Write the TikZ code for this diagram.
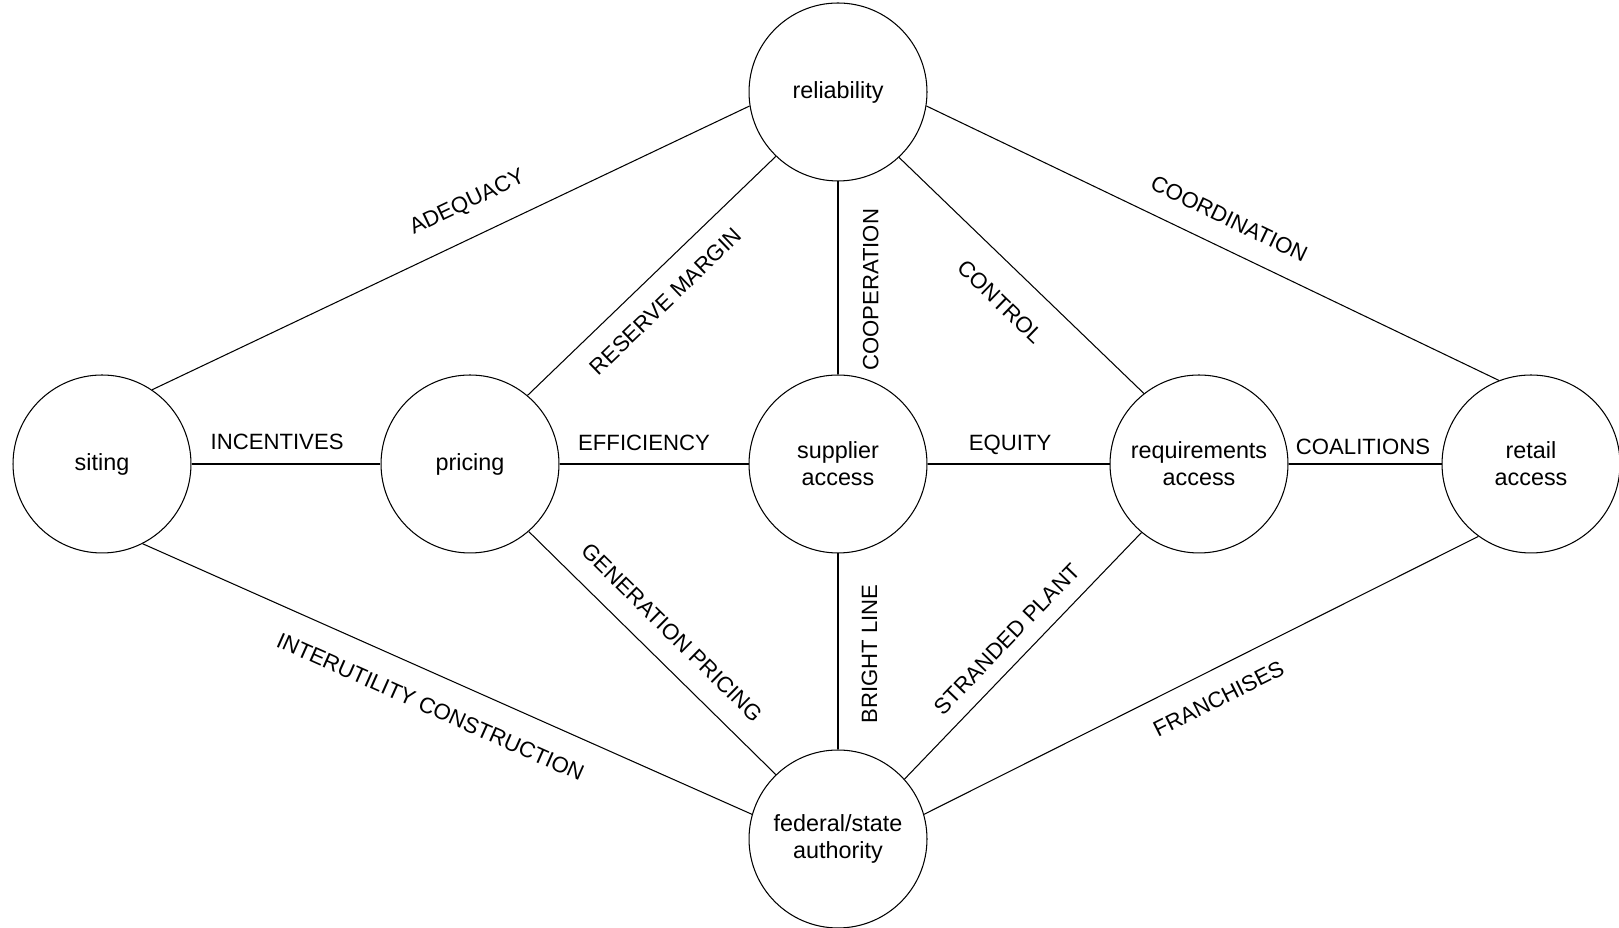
\documentclass[tikz,border=0pt]{standalone}
\usepackage{fontspec}
\setmainfont{Liberation Sans}

\begin{document}
\begin{tikzpicture}[x=0.02cm, y=0.02cm,
  topic/.style={draw, circle, line width=0.6pt, minimum size=3.56cm, inner sep=0pt,
                align=center, font=\fontsize{13.3}{15.5}\selectfont},
  link/.style={line width=0.6pt},
  tag/.style={font=\fontsize{12.6}{15}\selectfont, sloped, inner xsep=0pt,
              text height=9pt, text depth=0pt}]

\useasboundingbox (0,0) rectangle (1619,928);

\node [topic] (rel) at (838, 836) {reliability};
\node [topic] (sit) at (102, 464) {siting};
\node [topic] (pri) at (470, 464) {pricing};
\node [topic] (sup) at (838, 464) {supplier\\access};
\node [topic] (req) at (1199, 464) {requirements\\access};
\node [topic] (ret) at (1531, 464) {retail\\access};
\node [topic] (fed) at (838, 89) {federal/state\\authority};

% top fan
\draw [link] (sit.56)  -- (rel.189) node [tag, pos=0.552, above, inner ysep=15.4pt] {ADEQUACY};
\draw [link] (pri.50)  -- (rel.226) node [tag, pos=0.478, below, inner ysep=11pt] {RESERVE MARGIN};
\draw [link] (sup.90)  -- (rel.270) node [tag, pos=0.438, below, inner ysep=13.7pt] {COOPERATION};
\draw [link] (rel.313) -- (req.128) node [tag, pos=0.509, below, inner ysep=14.3pt] {CONTROL};
\draw [link] (rel.351) -- (ret.111) node [tag, pos=0.507, above, inner ysep=11.9pt] {COORDINATION};

% middle row
\draw [link] (sit.0) -- (pri.180) node [tag, pos=0.453, above, inner ysep=8pt] {INCENTIVES};
\draw [link] (pri.0) -- (sup.180) node [tag, pos=0.447, above, inner ysep=7.4pt] {EFFICIENCY};
\draw [link] (sup.0) -- (req.180) node [tag, pos=0.454, above, inner ysep=7.4pt] {EQUITY};
\draw [link] (req.0) -- (ret.180) node [tag, pos=0.487, above, inner ysep=5.2pt] {COALITIONS};

% bottom fan
\draw [link] (sit.297) -- (fed.164) node [tag, pos=0.494, below, inner ysep=13.4pt] {INTERUTILITY CONSTRUCTION};
\draw [link] (pri.311) -- (fed.134) node [tag, pos=0.499, above, inner ysep=11.5pt] {GENERATION PRICING};
\draw [link] (fed.90)  -- (sup.270) node [tag, pos=0.487, below, inner ysep=13pt] {BRIGHT LINE};
\draw [link] (fed.42)  -- (req.230) node [tag, pos=0.503, above, inner ysep=8.6pt] {STRANDED PLANT};
\draw [link] (fed.16)  -- (ret.234) node [tag, pos=0.508, below, inner ysep=11.4pt] {FRANCHISES};

\end{tikzpicture}
\end{document}
